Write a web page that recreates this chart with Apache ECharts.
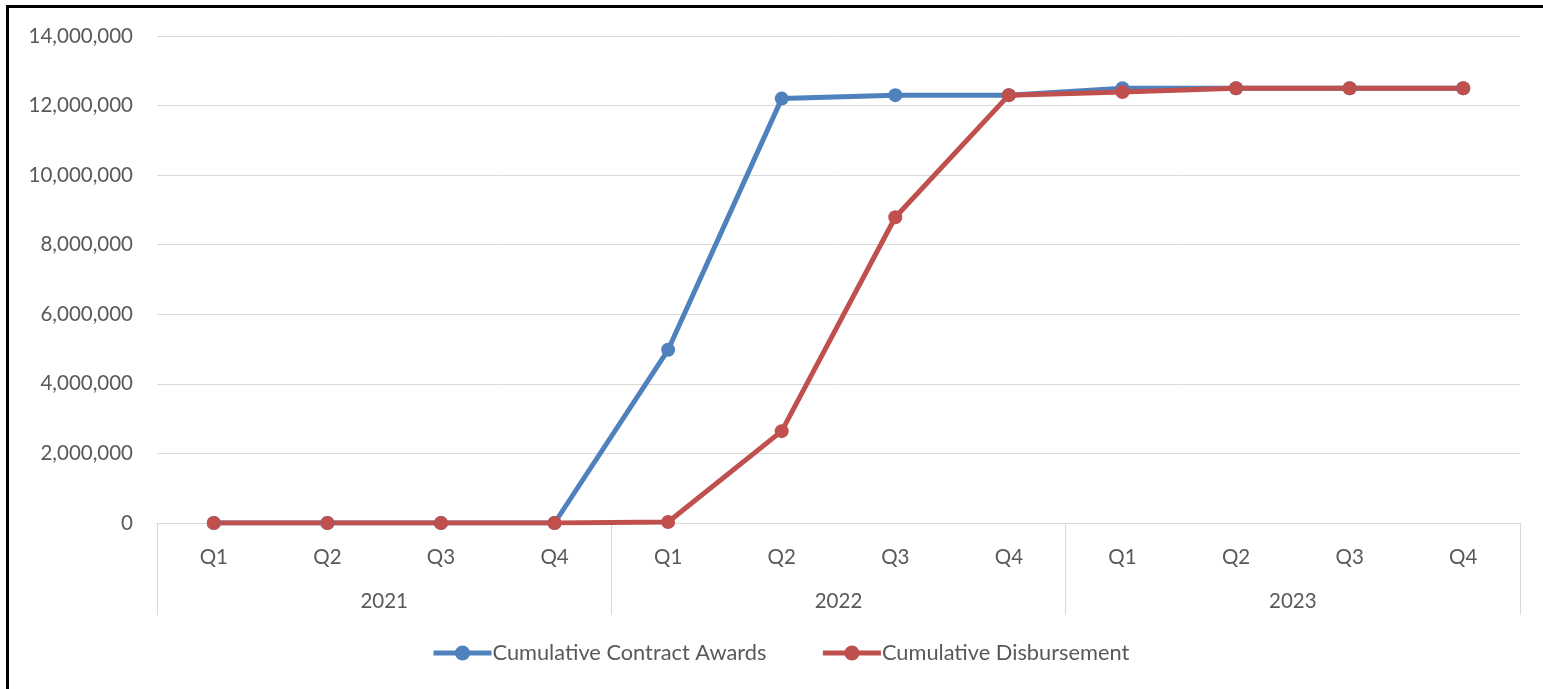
<!DOCTYPE html>
<html>
<head>
<meta charset="utf-8">
<script src="https://cdn.jsdelivr.net/npm/echarts@6/dist/echarts.min.js"></script>
<style>
html,body{margin:0;padding:0;background:#fff;}
#frame{position:absolute;left:6px;top:5px;width:1600px;height:760px;border-left:3px solid #000;border-top:3px solid #000;box-sizing:border-box;pointer-events:none;z-index:2;}
#chart{position:absolute;left:0;top:0;width:1543px;height:689px;}
</style>
</head>
<body>
<div id="chart"></div>
<div id="frame"></div>
<script>
var quarters = ['Q1','Q2','Q3','Q4','Q1','Q2','Q3','Q4','Q1','Q2','Q3','Q4'];
var years = ['2021','2022','2023'];
var contractAwards = [0, 0, 0, 0, 4980000, 12200000, 12300000, 12300000, 12500000, 12500000, 12500000, 12500000];
var disbursement = [0, 0, 0, 0, 30000, 2640000, 8790000, 12300000, 12390000, 12500000, 12500000, 12500000];
var seriesNames = ['Cumulative Contract Awards', 'Cumulative Disbursement'];

var font = 'Lato, "Liberation Sans", sans-serif';
var chart = echarts.init(document.getElementById('chart'));
chart.setOption({
  animation: false,
  textStyle: {fontFamily: font},
  grid: {left: 157, right: 23, top: 36, bottom: 166, containLabel: false},
  legend: {
    top: 642,
    left: 431,
    padding: 0,
    itemWidth: 58,
    itemHeight: 19,
    itemGap: 54,
    lineStyle: {width: 5},
    textStyle: {fontSize: 21.8, color: '#595959', fontFamily: font, padding: [0,0,0,-4]},
    data: seriesNames
  },
  xAxis: [{
    type: 'category',
    data: quarters,
    boundaryGap: true,
    position: 'bottom',
    axisLine: {lineStyle: {color: '#d9d9d9', width: 1}},
    axisTick: {show: false},
    axisLabel: {color: '#595959', fontSize: 20.5, margin: 24, fontFamily: font}
  }, {
    type: 'category',
    data: years,
    boundaryGap: true,
    position: 'bottom',
    axisLine: {show: false},
    axisTick: {show: true, length: 92, lineStyle: {color: '#d9d9d9', width: 1}},
    axisLabel: {color: '#595959', fontSize: 20.5, margin: 68, fontFamily: font}
  }],
  yAxis: {
    type: 'value',
    min: 0,
    max: 14000000,
    interval: 2000000,
    axisLine: {show: false},
    axisTick: {show: false},
    splitLine: {lineStyle: {color: '#d9d9d9', width: 1}},
    axisLabel: {
      color: '#595959', fontSize: 20.5, margin: 24, fontFamily: font,
      formatter: function (v) { return v.toLocaleString('en-US'); }
    }
  },
  series: [{
    name: seriesNames[0],
    type: 'line',
    data: contractAwards,
    xAxisIndex: 0,
    symbol: 'circle',
    symbolSize: 14,
    lineStyle: {width: 5, color: '#4F81BD'},
    itemStyle: {color: '#4F81BD'}
  }, {
    name: seriesNames[1],
    type: 'line',
    data: disbursement,
    xAxisIndex: 0,
    symbol: 'circle',
    symbolSize: 14,
    lineStyle: {width: 5, color: '#C0504D'},
    itemStyle: {color: '#C0504D'}
  }]
});
</script>
</body>
</html>
